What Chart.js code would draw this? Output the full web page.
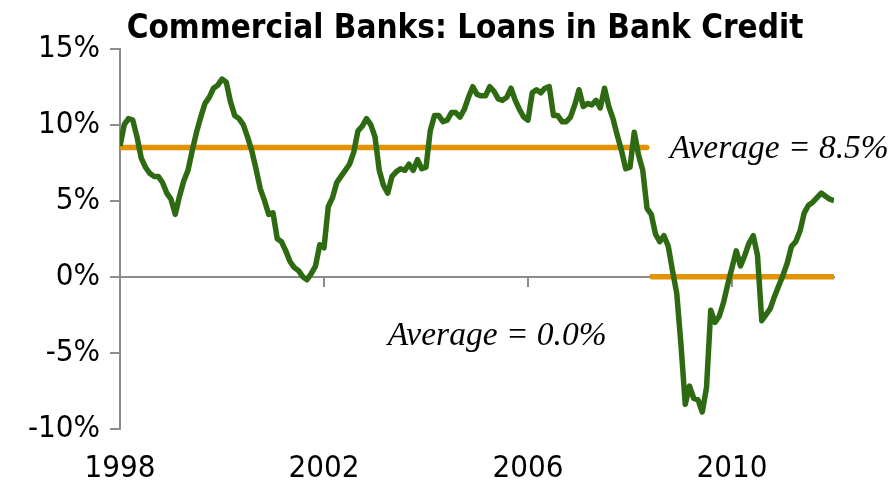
<!DOCTYPE html>
<html>
<head>
<meta charset="utf-8">
<script src="https://cdn.jsdelivr.net/npm/chart.js@4.4.1/dist/chart.umd.min.js"></script>
<style>
  html, body { margin: 0; padding: 0; background: #fff; }
  canvas { display: block; }
</style>
</head>
<body>
<canvas id="loanChart" width="893" height="482"></canvas>
<script>
// Commercial bank loans, year-over-year % change, monthly from Jan 1998
const startYear = 1998;
const loanGrowth = [
    8.6, 10.0, 10.4, 10.3, 9.2, 7.8, 7.2, 6.8, 6.6, 6.6, 6.2, 5.5,       // 1998
    5.1, 4.1, 5.3, 6.3, 7.0, 8.3, 9.5, 10.5, 11.4, 11.8, 12.4, 12.6,     // 1999
    13.0, 12.8, 11.5, 10.6, 10.4, 10.0, 9.2, 8.3, 7.1, 5.8, 5.0, 4.1,    // 2000
    4.2, 2.5, 2.3, 1.7, 1.0, 0.6, 0.4, 0.0, -0.2, 0.2, 0.7, 2.1,         // 2001
    1.9, 4.6, 5.2, 6.2, 6.6, 7.0, 7.4, 8.2, 9.6, 9.9, 10.4, 10.0,        // 2002
    9.2, 7.0, 6.0, 5.5, 6.6, 6.9, 7.1, 7.0, 7.4, 7.0, 7.7, 7.1,          // 2003
    7.2, 9.6, 10.6, 10.6, 10.2, 10.3, 10.8, 10.8, 10.5, 11.0, 11.8, 12.5, // 2004
    12.0, 11.9, 11.9, 12.5, 12.2, 11.7, 11.6, 11.8, 12.4, 11.6, 11.0, 10.5, // 2005
    10.3, 12.1, 12.3, 12.1, 12.4, 12.5, 10.6, 10.6, 10.2, 10.2, 10.5, 11.3, // 2006
    12.3, 11.2, 11.4, 11.3, 11.6, 11.1, 12.4, 11.2, 10.4, 9.3, 8.3, 7.1,  // 2007
    7.2, 9.5, 8.0, 7.0, 4.5, 4.1, 2.8, 2.3, 2.7, 2.0, 0.4, -1.1,         // 2008
    -4.5, -8.4, -7.2, -8.0, -8.1, -8.9, -7.3, -2.2, -3.0, -2.6, -1.7, -0.5, // 2009
    0.6, 1.7, 0.7, 1.4, 2.2, 2.7, 1.4, -2.9, -2.5, -2.1, -1.3, -0.6,     // 2010
    0.1, 0.9, 2.0, 2.3, 3.0, 4.2, 4.7, 4.9, 5.2, 5.5, 5.3, 5.1,          // 2011
    5.0                                                                  // 2012
];

const yearTicks = [1998, 2002, 2006, 2010];
const percentTicks = [-10, -5, 0, 5, 10, 15];

// period averages: before and after mid-2008
const avgBefore = 8.5;
const avgBeforeSpan = [1998, 2008.33];
const avgAfter = 0.0;
const avgAfterSpan = [2008.43, 2012];

const titleText = 'Commercial Banks: Loans in Bank Credit';
const green = '#2d6a12';
const orange = '#e29400';
const axisGray = '#8c8c8c';
const sansFont = "'DejaVu Sans Condensed', 'Liberation Sans', sans-serif";
const serifFont = "'Liberation Serif', 'DejaVu Serif', serif";

const loanPoints = loanGrowth.map((v, i) => ({ x: startYear + i / 12, y: v }));

// italic "Average = ..." captions placed in data coordinates
const avgLabels = [
    { text: 'Average = 8.5%', x: 2008.78, y: 7.8 },
    { text: 'Average = 0.0%', x: 2003.25, y: -4.5 }
];

const avgLabelPlugin = {
    id: 'avgLabels',
    afterDatasetsDraw(chart) {
        const { ctx, scales } = chart;
        ctx.save();
        ctx.font = 'italic 33.5px ' + serifFont;
        ctx.fillStyle = '#000';
        ctx.textAlign = 'left';
        ctx.textBaseline = 'alphabetic';
        avgLabels.forEach(l => {
            ctx.fillText(l.text, scales.x.getPixelForValue(l.x), scales.y.getPixelForValue(l.y));
        });
        ctx.restore();
    }
};

// title sits in the top padding band, a little right of the canvas middle
const titlePlugin = {
    id: 'topTitle',
    afterDraw(chart) {
        const { ctx } = chart;
        ctx.save();
        ctx.font = 'bold 33px ' + sansFont;
        ctx.fillStyle = '#000';
        ctx.textAlign = 'center';
        ctx.textBaseline = 'alphabetic';
        ctx.fillText(titleText, 465, 38);
        ctx.restore();
    }
};

new Chart(document.getElementById('loanChart'), {
    type: 'line',
    data: {
        datasets: [
            {
                label: 'Loans in bank credit',
                data: loanPoints,
                borderColor: green,
                borderWidth: 5.5,
                borderJoinStyle: 'round',
                pointRadius: 0,
                tension: 0,
                order: 0
            },
            {
                label: 'Average 1998-2008',
                data: avgBeforeSpan.map(x => ({ x: x, y: avgBefore })),
                borderColor: orange,
                borderWidth: 5.5,
                borderCapStyle: 'round',
                pointRadius: 0,
                order: 1
            },
            {
                label: 'Average 2008-2011',
                data: avgAfterSpan.map(x => ({ x: x, y: avgAfter })),
                borderColor: orange,
                borderWidth: 5.5,
                borderCapStyle: 'round',
                pointRadius: 0,
                order: 2
            }
        ]
    },
    options: {
        responsive: false,
        animation: false,
        layout: { padding: { left: 0, right: 59, top: 48.7, bottom: 0 } },
        plugins: {
            legend: { display: false },
            tooltip: { enabled: false },
            title: { display: false }
        },
        scales: {
            x: {
                type: 'linear',
                min: 1998,
                max: 2012,
                afterBuildTicks: s => { s.ticks = yearTicks.map(v => ({ value: v })); },
                afterFit: s => { s.height = 53.3; },
                grid: { display: false },
                border: { display: false },
                ticks: {
                    color: '#000',
                    padding: 14,
                    maxRotation: 0,
                    font: { family: sansFont, size: 31 },
                    callback: v => String(v)
                }
            },
            // axis line along 0% with small year tick marks
            x0: {
                type: 'linear',
                position: { y: 0 },
                min: 1998,
                max: 2012,
                afterBuildTicks: s => { s.ticks = yearTicks.map(v => ({ value: v })); },
                grid: { drawOnChartArea: false, tickLength: 9, tickColor: axisGray, lineWidth: 2 },
                border: { color: axisGray, width: 2 },
                ticks: { display: false }
            },
            y: {
                min: -10,
                max: 15,
                afterBuildTicks: s => { s.ticks = percentTicks.map(v => ({ value: v })); },
                afterFit: s => { s.width = 120; },
                grid: { drawOnChartArea: false, tickLength: 10, tickColor: axisGray, lineWidth: 2 },
                border: { color: axisGray, width: 2 },
                ticks: {
                    color: '#000',
                    padding: 10,
                    font: { family: sansFont, size: 31 },
                    callback: v => v + '%'
                }
            }
        }
    },
    plugins: [avgLabelPlugin, titlePlugin]
});
</script>
</body>
</html>
